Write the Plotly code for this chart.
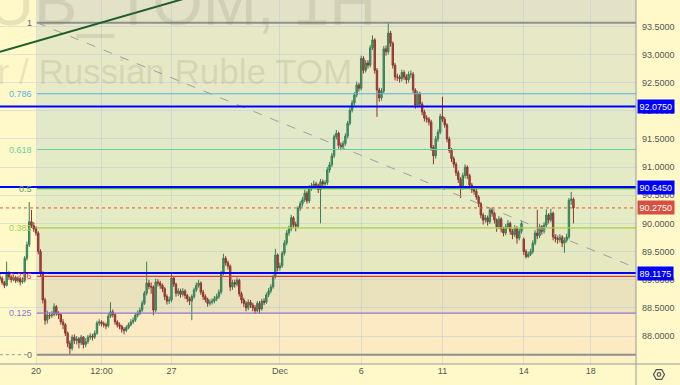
import plotly.graph_objects as go

# ---------------- data (hourly bars, USDRUB_TOM) ----------------
open_ = [
    89.05, 89.02, 88.95, 88.90, 89.10, 89.05, 89.00, 89.04, 88.98, 89.02, 88.96, 88.98,
    89.38, 89.62, 90.03, 89.96, 89.90, 89.83, 89.50, 89.11, 88.64, 88.28, 88.37, 88.36,
    88.38, 88.52, 88.40, 88.38, 88.25, 88.20, 88.05, 87.87, 87.78, 87.98, 87.92, 87.95,
    87.88, 87.98, 87.85, 87.90, 87.98, 88.00, 87.98, 88.05, 88.23, 88.25, 88.22, 88.20,
    88.18, 88.35, 88.43, 88.38, 88.25, 88.20, 88.17, 88.12, 88.10, 88.15, 88.20, 88.25,
    88.28, 88.37, 88.40, 88.46, 88.58, 88.76, 88.94, 88.88, 88.87, 88.46, 88.96, 88.94,
    88.90, 88.84, 88.70, 88.62, 88.64, 89.03, 88.92, 88.76, 88.80, 88.74, 88.80, 88.72,
    88.66, 88.62, 88.70, 88.82, 88.90, 88.94, 88.78, 88.70, 88.65, 88.58, 88.60, 88.62,
    88.66, 88.70, 88.78, 89.12, 89.38, 89.30, 89.24, 88.87, 88.95, 88.92, 88.99, 88.75,
    88.64, 88.58, 88.50, 88.60, 88.55, 88.50, 88.45, 88.58, 88.48, 88.62, 88.60, 88.73,
    88.80, 88.87, 89.05, 89.44, 89.21, 89.25, 89.47, 89.65, 89.83, 89.90, 90.10, 89.98,
    89.95, 90.27, 90.35, 90.42, 90.54, 90.40, 90.63, 90.67, 90.70, 90.68, 90.60, 90.74,
    90.70, 90.72, 90.95, 91.04, 91.20, 91.54, 91.60, 91.39, 91.36, 91.42, 91.55, 91.78,
    92.01, 92.14, 92.28, 92.46, 92.40, 92.93, 92.72, 92.85, 92.81, 93.12, 93.26, 92.72,
    92.37, 92.23, 92.35, 93.10, 93.05, 93.38, 93.20, 92.81, 92.60, 92.60, 92.57, 92.68,
    92.60, 92.55, 92.65, 92.65, 92.37, 92.10, 92.30, 92.12, 91.98, 91.87, 91.85, 91.80,
    91.35, 91.20, 91.50, 91.62, 91.90, 91.85, 91.75, 91.50, 91.30, 91.15, 91.05, 90.90,
    90.78, 90.65, 90.85, 91.00, 90.85, 90.68, 90.60, 90.57, 90.47, 90.35, 90.15, 90.06,
    90.10, 90.03, 90.24, 90.18, 90.06, 89.94, 90.08, 89.90, 89.83, 89.94, 90.00, 89.86,
    89.80, 89.92, 89.74, 89.86, 89.72, 89.50, 89.41, 89.45, 89.50, 89.65, 89.83, 89.78,
    89.94, 89.86, 89.97, 90.15, 90.06, 90.18, 89.76, 89.73, 89.71, 89.76, 89.65, 89.70,
    89.76, 90.41, 90.43,
]
high_ = [
    89.10, 89.06, 88.98, 89.32, 89.15, 89.08, 89.09, 89.07, 89.06, 89.05, 89.03, 89.42,
    89.68, 90.38, 90.24, 90.02, 89.95, 89.86, 89.54, 89.15, 88.68, 88.45, 88.42, 88.44,
    88.58, 88.55, 88.44, 88.40, 88.30, 88.23, 88.08, 87.92, 88.02, 88.03, 88.00, 87.98,
    88.02, 88.00, 87.96, 88.02, 88.05, 88.04, 88.10, 88.27, 88.30, 88.28, 88.26, 88.24,
    88.40, 88.60, 88.47, 88.40, 88.28, 88.24, 88.20, 88.16, 88.19, 88.24, 88.30, 88.33,
    88.41, 88.45, 88.51, 88.63, 88.80, 89.32, 89.00, 88.95, 88.90, 89.02, 89.01, 88.98,
    88.93, 88.87, 88.74, 88.70, 89.12, 89.06, 88.95, 88.85, 88.84, 88.85, 88.83, 88.75,
    88.70, 88.74, 88.86, 88.95, 89.00, 88.97, 88.82, 88.74, 88.68, 88.65, 88.67, 88.71,
    88.75, 88.83, 89.16, 89.46, 89.42, 89.34, 89.27, 89.00, 89.00, 89.04, 89.02, 88.79,
    88.68, 88.62, 88.65, 88.64, 88.59, 88.55, 88.62, 88.62, 88.66, 88.67, 88.77, 88.85,
    88.92, 89.09, 89.55, 89.47, 89.30, 89.51, 89.70, 89.88, 89.96, 90.15, 90.13, 90.03,
    90.31, 90.40, 90.47, 90.60, 90.58, 90.68, 90.72, 90.76, 90.74, 90.71, 90.79, 90.78,
    90.77, 91.00, 91.09, 91.25, 91.58, 91.66, 91.63, 91.44, 91.47, 91.60, 91.82, 92.06,
    92.19, 92.33, 92.52, 92.50, 92.98, 92.97, 92.90, 92.90, 93.17, 93.34, 93.29, 92.76,
    92.41, 92.40, 93.15, 93.16, 93.565, 93.42, 93.23, 92.85, 92.66, 92.64, 92.73, 92.72,
    92.65, 92.70, 92.72, 92.69, 92.40, 92.35, 92.34, 92.16, 92.02, 91.92, 91.89, 91.84,
    91.39, 91.55, 91.67, 91.95, 92.25, 91.89, 91.78, 91.54, 91.34, 91.19, 91.09, 90.94,
    90.82, 90.90, 91.05, 91.03, 90.88, 90.72, 90.65, 90.61, 90.50, 90.38, 90.19, 90.15,
    90.14, 90.28, 90.28, 90.21, 90.09, 90.13, 90.11, 89.94, 89.99, 90.06, 90.03, 89.90,
    89.97, 89.95, 89.91, 90.05, 89.75, 89.54, 89.50, 89.55, 89.70, 89.88, 90.24, 89.99,
    89.97, 90.02, 90.25, 90.18, 90.26, 90.21, 89.81, 89.77, 89.81, 89.79, 89.75, 89.82,
    90.45, 90.56, 90.46,
]
low_ = [
    88.98, 88.91, 88.85, 88.88, 89.00, 88.95, 88.97, 88.94, 88.95, 88.90, 88.93, 88.95,
    89.34, 89.58, 89.92, 89.85, 89.78, 89.45, 89.05, 88.58, 88.20, 88.22, 88.30, 88.32,
    88.35, 88.36, 88.30, 88.20, 88.12, 88.00, 87.80, 87.67, 87.74, 87.86, 87.85, 87.78,
    87.84, 87.78, 87.80, 87.86, 87.93, 87.92, 87.95, 88.02, 88.18, 88.17, 88.15, 88.12,
    88.15, 88.32, 88.33, 88.20, 88.15, 88.12, 88.06, 88.03, 88.07, 88.12, 88.17, 88.21,
    88.25, 88.33, 88.37, 88.43, 88.55, 88.72, 88.83, 88.75, 88.37, 88.42, 88.88, 88.84,
    88.78, 88.64, 88.56, 88.57, 88.60, 88.87, 88.70, 88.71, 88.68, 88.70, 88.66, 88.60,
    88.55, 88.28, 88.66, 88.78, 88.86, 88.73, 88.64, 88.60, 88.52, 88.54, 88.56, 88.58,
    88.62, 88.66, 88.74, 89.08, 89.25, 89.18, 88.80, 88.82, 88.86, 88.88, 88.70, 88.58,
    88.52, 88.44, 88.46, 88.50, 88.44, 88.40, 88.42, 88.40, 88.45, 88.55, 88.57, 88.69,
    88.76, 88.84, 89.02, 89.15, 89.16, 89.21, 89.43, 89.61, 89.78, 89.86, 89.92, 89.86,
    89.91, 90.22, 90.30, 90.38, 90.35, 90.36, 90.58, 90.62, 90.62, 90.54, 90.00, 90.64,
    90.65, 90.68, 90.90, 91.00, 91.16, 91.49, 91.33, 91.30, 91.31, 91.38, 91.51, 91.74,
    91.97, 92.10, 92.24, 92.34, 92.36, 92.66, 92.68, 92.75, 92.77, 93.08, 92.66, 91.89,
    92.16, 92.18, 92.31, 92.98, 93.00, 93.14, 92.75, 92.54, 92.53, 92.50, 92.52, 92.55,
    92.48, 92.50, 92.58, 92.31, 92.04, 92.06, 92.07, 91.92, 91.81, 91.79, 91.74, 91.29,
    91.05, 91.15, 91.45, 91.58, 91.80, 91.70, 91.44, 91.25, 91.09, 90.99, 90.84, 90.72,
    90.45, 90.60, 90.80, 90.79, 90.62, 90.54, 90.51, 90.42, 90.29, 90.09, 89.98, 90.01,
    89.96, 89.99, 90.12, 90.00, 89.85, 89.90, 89.84, 89.77, 89.79, 89.90, 89.80, 89.72,
    89.76, 89.64, 89.70, 89.82, 89.44, 89.38, 89.39, 89.42, 89.46, 89.61, 89.72, 89.74,
    89.80, 89.82, 89.93, 90.00, 90.02, 89.70, 89.66, 89.64, 89.66, 89.58, 89.48, 89.66,
    89.72, 90.33, 90.00,
]
close_ = [
    89.02, 88.95, 88.90, 89.10, 89.05, 89.00, 89.04, 88.98, 89.02, 88.96, 88.98, 89.38,
    89.62, 90.03, 89.96, 89.90, 89.83, 89.50, 89.11, 88.64, 88.28, 88.37, 88.36, 88.38,
    88.52, 88.40, 88.38, 88.25, 88.20, 88.05, 87.87, 87.78, 87.98, 87.92, 87.95, 87.88,
    87.98, 87.85, 87.90, 87.98, 88.00, 87.98, 88.05, 88.23, 88.25, 88.22, 88.20, 88.18,
    88.35, 88.43, 88.38, 88.25, 88.20, 88.17, 88.12, 88.10, 88.15, 88.20, 88.25, 88.28,
    88.37, 88.40, 88.46, 88.58, 88.76, 88.94, 88.88, 88.87, 88.46, 88.96, 88.94, 88.90,
    88.84, 88.70, 88.62, 88.64, 89.03, 88.92, 88.76, 88.80, 88.74, 88.80, 88.72, 88.66,
    88.62, 88.70, 88.82, 88.90, 88.94, 88.78, 88.70, 88.65, 88.58, 88.60, 88.62, 88.66,
    88.70, 88.78, 89.12, 89.38, 89.30, 89.24, 88.87, 88.95, 88.92, 88.99, 88.75, 88.64,
    88.58, 88.50, 88.60, 88.55, 88.50, 88.45, 88.58, 88.48, 88.62, 88.60, 88.73, 88.80,
    88.87, 89.05, 89.44, 89.21, 89.25, 89.47, 89.65, 89.83, 89.90, 90.10, 89.98, 89.95,
    90.27, 90.35, 90.42, 90.54, 90.40, 90.63, 90.67, 90.70, 90.68, 90.60, 90.74, 90.70,
    90.72, 90.95, 91.04, 91.20, 91.54, 91.60, 91.39, 91.36, 91.42, 91.55, 91.78, 92.01,
    92.14, 92.28, 92.46, 92.40, 92.93, 92.72, 92.85, 92.81, 93.12, 93.26, 92.72, 92.37,
    92.23, 92.35, 93.10, 93.05, 93.38, 93.20, 92.81, 92.60, 92.60, 92.57, 92.68, 92.60,
    92.55, 92.65, 92.65, 92.37, 92.10, 92.30, 92.12, 91.98, 91.87, 91.85, 91.80, 91.35,
    91.20, 91.50, 91.62, 91.90, 91.85, 91.75, 91.50, 91.30, 91.15, 91.05, 90.90, 90.78,
    90.65, 90.85, 91.00, 90.85, 90.68, 90.60, 90.57, 90.47, 90.35, 90.15, 90.06, 90.10,
    90.03, 90.24, 90.18, 90.06, 89.94, 90.08, 89.90, 89.83, 89.94, 90.00, 89.86, 89.80,
    89.92, 89.74, 89.86, 90.00, 89.50, 89.41, 89.45, 89.50, 89.65, 89.83, 89.78, 89.94,
    89.86, 89.97, 90.15, 90.06, 90.18, 89.76, 89.73, 89.71, 89.76, 89.65, 89.70, 89.76,
    90.41, 90.43, 90.275,
]
bar_index = list(range(len(close_)))

# x-axis tick labels (bar positions of session starts)
x_tick_pos = [16, 45, 76, 124, 160, 196, 232, 261.7]
x_tick_text = ["20", "12:00", "27", "Dec", "6", "11", "14", "18"]
y_tick_vals = [88.0, 88.5, 89.0, 89.5, 90.0, 90.5, 91.0, 91.5, 92.0, 92.5, 93.0, 93.5]

# Fibonacci retracement drawing
fib_high = 93.565
fib_low = 87.668
fib_start = 16.4
fib_levels = [1, 0.786, 0.618, 0.5, 0.382, 0.236, 0.125, 0]
fib_labels = ["1", "0.786", "0.618", "0.5", "0.382", "0.236", "0.125", "0"]
fib_line_colors = ["#8f8f8f", "#55b1e3", "#5fd3a4", "#4caf50", "#a6cf47", "#e53935", "#9575cd", "#8f8f8f"]
fib_zone_colors = ["#e3e2c6", "#e7e8c6", "#e2e9c8", "#e2eac6", "#e5ebc3", "#e6e8bf", "#eae2bd", "#fcebc2", "#fdf2c6"]

# horizontal levels
key_levels = [92.075, 90.645, 89.1175]
key_labels = ["92.0750", "90.6450", "89.1175"]
last_price = 90.275
last_label = "90.2750"

# trend lines
trend_x = [16.4, 281.7]
trend_y = [93.565, 89.21]
green_x = [0.06, 120.0]
green_y = [93.05, 94.434]

x_range = [0.06, 281.7]
y_range = [87.503, 93.968]

BG = "#fff9c9"
FONT = "Liberation Sans"

fig = go.Figure()
fig.add_trace(go.Candlestick(
    x=bar_index, open=open_, high=high_, low=low_, close=close_,
    increasing=dict(line=dict(color="#35805a", width=1), fillcolor="#4a976b"),
    decreasing=dict(line=dict(color="#8e3530", width=1), fillcolor="#b44840"),
    whiskerwidth=0, showlegend=False, hoverinfo="skip",
))

shapes = []
fib_prices = [fib_low + lv * (fib_high - fib_low) for lv in fib_levels]
bounds = [95.5] + fib_prices + [86.5]
for k, col in enumerate(fib_zone_colors):
    shapes.append(dict(type="rect", xref="x", yref="y", x0=fib_start, x1=300,
                       y0=bounds[k + 1], y1=bounds[k], fillcolor=col,
                       line=dict(width=0), layer="below"))
for p, col, lv in zip(fib_prices, fib_line_colors, fib_levels):
    shapes.append(dict(type="line", xref="x", yref="y", x0=fib_start, x1=300, y0=p, y1=p,
                       line=dict(color=col, width=2 if lv in (0, 1) else 1.2), layer="above"))
# dotted gray at fib 0 to the left
shapes.append(dict(type="line", xref="x", yref="y", x0=0, x1=12.5, y0=fib_low, y1=fib_low,
                   line=dict(color="#9a9a9a", width=1, dash="dot"), layer="above"))
# trend lines
shapes.append(dict(type="line", xref="x", yref="y", x0=trend_x[0], x1=trend_x[1],
                   y0=trend_y[0], y1=trend_y[1],
                   line=dict(color="#9e9e9e", width=1, dash="dash"), layer="above"))
shapes.append(dict(type="line", xref="x", yref="y", x0=green_x[0], x1=green_x[1],
                   y0=green_y[0], y1=green_y[1],
                   line=dict(color="#1e5e2a", width=2), layer="above"))
# last price dotted
shapes.append(dict(type="line", xref="paper", yref="y", x0=0, x1=1, y0=last_price, y1=last_price,
                   line=dict(color="#e0553f", width=1, dash="dot"), layer="above"))
# key levels
for lvl in key_levels:
    shapes.append(dict(type="line", xref="paper", yref="y", x0=0, x1=1, y0=lvl, y1=lvl,
                       line=dict(color="#0000ff", width=2), layer="above"))
# pane separators
shapes.append(dict(type="line", xref="paper", yref="paper", x0=1, x1=1, y0=-21 / 364, y1=1,
                   line=dict(color="#9b9b9b", width=1)))
shapes.append(dict(type="line", xref="paper", yref="paper", x0=0, x1=680 / 636, y0=0, y1=0,
                   line=dict(color="#9b9b9b", width=1)))
# settings (gear) icon
cx, cy, r = 659.0, 374.5, 5.5
hx = [cx - r, cx - r / 2, cx + r / 2, cx + r, cx + r / 2, cx - r / 2]
hy = [cy, cy - r * 0.87, cy - r * 0.87, cy, cy + r * 0.87, cy + r * 0.87]
path = "M " + " L ".join(f"{x / 636:.5f},{(364 - y) / 364:.5f}" for x, y in zip(hx, hy)) + " Z"
shapes.append(dict(type="path", xref="paper", yref="paper", path=path,
                   line=dict(color="#555555", width=1.2)))
shapes.append(dict(type="circle", xref="paper", yref="paper",
                   x0=(cx - 1.8) / 636, x1=(cx + 1.8) / 636,
                   y0=(364 - cy - 1.8) / 364, y1=(364 - cy + 1.8) / 364,
                   line=dict(color="#555555", width=1.2)))

annotations = []
# watermark
annotations.append(dict(text="USDRUB_TOM, 1H", xref="paper", yref="paper", x=378 / 636, y=1 - 41 / 364,
                        xanchor="right", yanchor="bottom", showarrow=False,
                        font=dict(family=FONT, size=65, color="rgba(120,120,95,0.17)")))
annotations.append(dict(text="U.S. Dollar / Russian Ruble TOM", xref="paper", yref="paper",
                        x=354 / 636, y=1 - 93 / 364, xanchor="right", yanchor="bottom", showarrow=False,
                        font=dict(family=FONT, size=35, color="rgba(120,120,95,0.17)")))
# fib labels
for p, col, txt in zip(fib_prices, fib_line_colors, fib_labels):
    annotations.append(dict(text=txt, xref="x", yref="y", x=fib_start - 1.2, y=p,
                            xanchor="right", yanchor="middle", showarrow=False,
                            font=dict(family=FONT, size=9, color=col if txt not in ("1", "0") else "#666666")))
# price labels on axis
for lvl, txt in zip(key_levels, key_labels):
    annotations.append(dict(text=txt, xref="paper", yref="y", x=1, y=lvl, xanchor="left",
                            yanchor="middle", showarrow=False, bgcolor="#0000ff",
                            borderpad=1.5, xshift=1,
                            font=dict(family=FONT, size=9, color="#ffffff")))
annotations.append(dict(text=last_label, xref="paper", yref="y", x=1, y=last_price, xanchor="left",
                        yanchor="middle", showarrow=False, bgcolor="#d5503e", borderpad=1.5, xshift=1,
                        font=dict(family=FONT, size=9, color="#ffffff")))

fig.update_layout(
    width=680, height=385,
    margin=dict(l=0, r=44, t=0, b=21),
    paper_bgcolor=BG, plot_bgcolor=BG,
    shapes=shapes, annotations=annotations,
    boxgap=0.12,
    font=dict(family=FONT, size=9, color="#555555"),
    xaxis=dict(range=x_range, tickmode="array", tickvals=x_tick_pos, ticktext=x_tick_text,
               showgrid=True, gridcolor="rgba(185,198,215,0.45)", gridwidth=1,
               zeroline=False, showline=False, ticks="", rangeslider=dict(visible=False),
               tickfont=dict(family=FONT, size=9, color="#555555"), fixedrange=True),
    yaxis=dict(range=y_range, side="right", tickmode="array", tickvals=y_tick_vals,
               ticktext=[f"{v:.4f}" for v in y_tick_vals],
               showgrid=True, gridcolor="rgba(185,198,215,0.45)", gridwidth=1,
               zeroline=False, showline=False, ticks="", ticklabelstandoff=5,
               tickfont=dict(family=FONT, size=9, color="#555555"), fixedrange=True),
)

fig.write_html("out.html")
